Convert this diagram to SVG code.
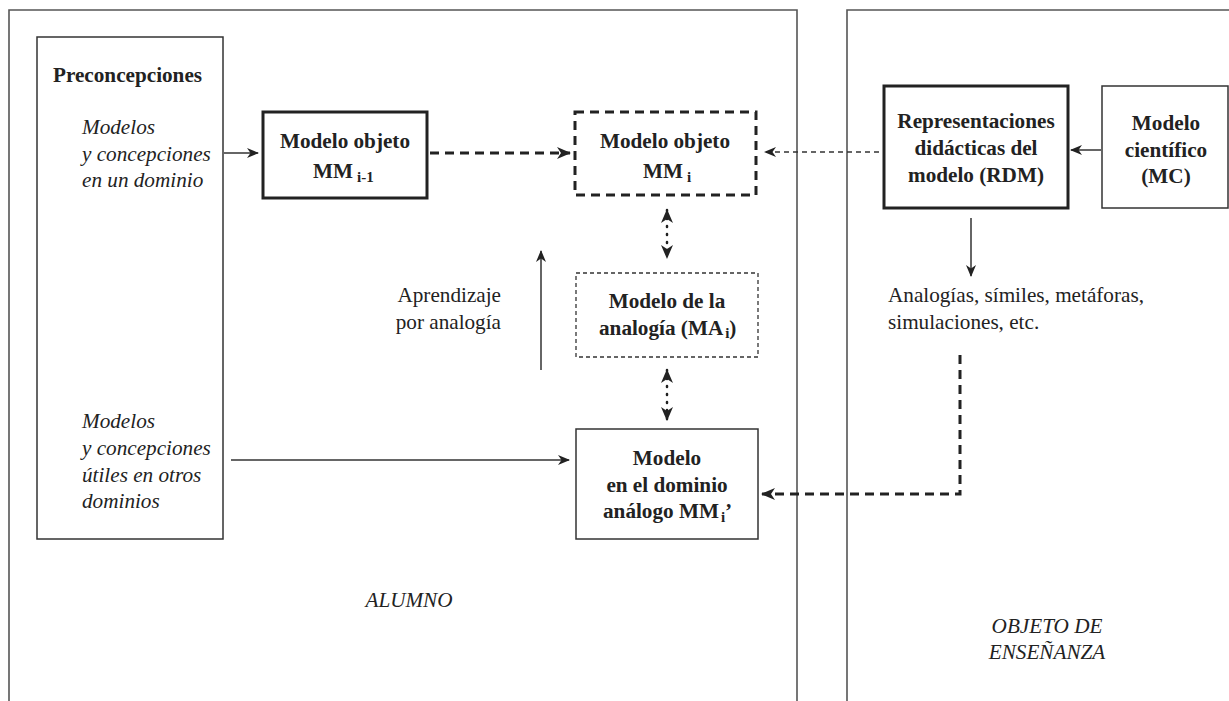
<svg xmlns="http://www.w3.org/2000/svg" width="1229" height="701" viewBox="0 0 1229 701">
<style>
text{font-family:"Liberation Serif","Times New Roman",serif;fill:#222;font-size:21.2px}
.b{font-weight:bold}
.i{font-style:italic}
.m{text-anchor:middle}
.sub{font-size:15px;font-weight:bold}
.frame{fill:none;stroke:#555;stroke-width:1.6}
.box{fill:#fff;stroke:#333;stroke-width:1.5}
.thick{fill:#fff;stroke:#222;stroke-width:3}
.dashbox{fill:#fff;stroke:#222;stroke-width:3;stroke-dasharray:9 6}
.thindash{fill:#fff;stroke:#333;stroke-width:1.3;stroke-dasharray:4 3}
.ln{fill:none;stroke:#333;stroke-width:1.5}
.dl{fill:none;stroke:#222;stroke-width:3;stroke-dasharray:9 6}
.tdl{fill:none;stroke:#333;stroke-width:1.3;stroke-dasharray:5 4}
.dot{fill:none;stroke:#222;stroke-width:2.5;stroke-dasharray:1 7;stroke-linecap:round}
</style>
<defs>
<marker id="ah" viewBox="0 0 12 10" refX="11" refY="5" markerWidth="12" markerHeight="10" markerUnits="userSpaceOnUse" orient="auto-start-reverse">
<path d="M0,0 L12,5 L0,10 L3.5,5 z" fill="#222"/>
</marker>
<marker id="ahb" viewBox="0 0 14 12" refX="13" refY="6" markerWidth="14" markerHeight="12" markerUnits="userSpaceOnUse" orient="auto-start-reverse">
<path d="M0,0 L14,6 L0,12 L4,6 z" fill="#222"/>
</marker>
</defs>
<g id="frames">
<path class="frame" d="M9,701 V10 H797 V701"/>
<path class="frame" d="M847,701 V10 H1229"/>
<text class="i m" x="409" y="607">ALUMNO</text>
<text class="i m" x="1047" y="633">OBJETO DE</text>
<text class="i m" x="1047" y="659">ENSEÑANZA</text>
</g>
<g id="preconcepciones">
<rect class="box" x="37" y="37" width="186" height="502"/>
<text class="b" x="53" y="82">Preconcepciones</text>
<text class="i" x="82" y="134">Modelos</text>
<text class="i" x="82" y="161">y concepciones</text>
<text class="i" x="82" y="187">en un dominio</text>
<text class="i" x="82" y="428">Modelos</text>
<text class="i" x="82" y="455">y concepciones</text>
<text class="i" x="82" y="482">útiles en otros</text>
<text class="i" x="82" y="508">dominios</text>
</g>
<g id="mm_i1">
<rect class="thick" x="263" y="112" width="164" height="86"/>
<text class="b m" x="345" y="148">Modelo objeto</text>
<text class="b" x="313" y="178">MM<tspan class="sub" dx="4" dy="4">i-1</tspan></text>
</g>
<g id="mm_i">
<rect class="dashbox" x="575" y="112" width="181" height="83"/>
<text class="b m" x="665" y="148">Modelo objeto</text>
<text class="b" x="643" y="178">MM<tspan class="sub" dx="4" dy="4">i</tspan></text>
</g>
<g id="ma_i">
<rect class="thindash" x="576" y="273" width="182" height="84"/>
<text class="b m" x="667" y="308">Modelo de la</text>
<text class="b" x="599" y="335">analogía (MA<tspan class="sub" dx="2" dy="3">i</tspan><tspan dy="-3">)</tspan></text>
</g>
<g id="mm_i_prime">
<rect class="box" x="576" y="429" width="182" height="110"/>
<text class="b m" x="667" y="465">Modelo</text>
<text class="b m" x="667" y="492">en el dominio</text>
<text class="b" x="603" y="518">análogo MM<tspan class="sub" dx="2" dy="4">i</tspan><tspan dy="-4">’</tspan></text>
</g>
<g id="rdm">
<rect class="thick" x="884" y="86" width="184" height="122"/>
<text class="b m" x="976" y="128">Representaciones</text>
<text class="b m" x="976" y="155">didácticas del</text>
<text class="b m" x="976" y="182">modelo (RDM)</text>
</g>
<g id="mc">
<rect class="box" x="1102" y="86" width="126" height="122"/>
<text class="b m" x="1166" y="130">Modelo</text>
<text class="b m" x="1166" y="157">científico</text>
<text class="b m" x="1166" y="183">(MC)</text>
</g>
<g id="labels">
<text x="501" y="302" style="text-anchor:end">Aprendizaje</text>
<text x="501" y="329" style="text-anchor:end">por analogía</text>
<text x="888" y="302">Analogías, símiles, metáforas,</text>
<text x="888" y="329">simulaciones, etc.</text>
</g>
<g id="connectors">
<line class="ln" x1="224" y1="153" x2="258" y2="153" marker-end="url(#ah)"/>
<line class="dl" x1="430" y1="153" x2="570" y2="153" marker-end="url(#ahb)"/>
<line class="tdl" x1="879" y1="152" x2="765" y2="152" marker-end="url(#ah)"/>
<line class="ln" x1="1101" y1="150" x2="1071" y2="150" marker-end="url(#ah)"/>
<line class="ln" x1="971" y1="218" x2="971" y2="276" marker-end="url(#ah)"/>
<line class="dot" x1="667" y1="210" x2="667" y2="258" marker-start="url(#ahb)" marker-end="url(#ahb)"/>
<line class="dot" x1="667" y1="370" x2="667" y2="420" marker-start="url(#ahb)" marker-end="url(#ahb)"/>
<line class="ln" x1="541" y1="370" x2="541" y2="251" marker-end="url(#ah)"/>
<line class="ln" x1="231" y1="460" x2="569" y2="460" marker-end="url(#ah)"/>
<path class="dl" d="M960,355 V494 H762" marker-end="url(#ahb)"/>
</g>
</svg>
